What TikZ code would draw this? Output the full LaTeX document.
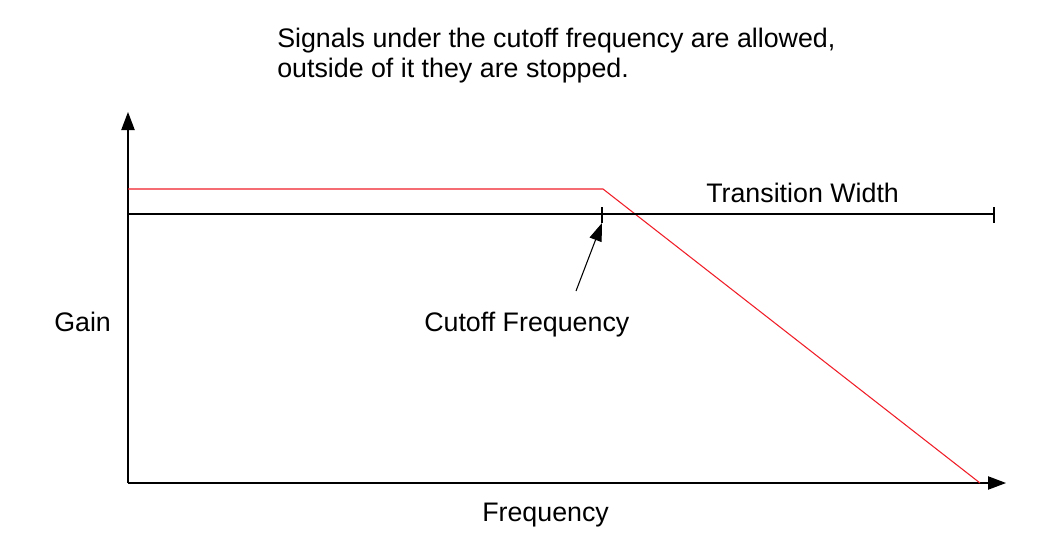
\documentclass[tikz,border=0pt]{standalone}
\usepackage{fontspec}
\setmainfont{Liberation Sans}
\usetikzlibrary{arrows.meta}
\begin{document}
\begin{tikzpicture}[x=0.75pt,y=-0.75pt,
  lbl/.style={inner sep=0pt,anchor=base west,font=\fontsize{20.1pt}{23pt}\selectfont},
  axis/.style={line width=0.8pt,-{Triangle[length=13.5pt,width=10pt]}},
  thin/.style={line width=0.8pt},
  resp/.style={line width=0.8pt,draw={rgb,255:red,240;green,30;blue,40}}]
\useasboundingbox (0,0) rectangle (1047,546);
% coordinates
\coordinate (O) at (128,483);
\coordinate (ytop) at (128,112);
\coordinate (xend) at (1006,483);
\coordinate (r0) at (128,189);
\coordinate (rk) at (603,189);
\coordinate (rend) at (980,483);
\coordinate (l0) at (128,214);
\coordinate (lc) at (602,214);
\coordinate (le) at (994,214);
\coordinate (tc1) at (602,207);
\coordinate (tc2) at (602,223);
\coordinate (te1) at (994,207);
\coordinate (te2) at (994,223);
\coordinate (astart) at (576,291);
% axes
\draw[axis] (O) -- (ytop);
\draw[axis] (O) -- (xend);
% response
\draw[resp] (r0) -- (rk) -- (rend);
% reference line with ticks
\draw[thin] (l0) -- (le);
\draw[thin] (tc1) -- (tc2);
\draw[thin] (te1) -- (te2);
% cutoff arrow
\draw[line width=0.8pt,-{Triangle[length=13.5pt,width=9.5pt]}] (astart) -- (tc2);
% texts
\node[lbl] (t1) at (277,47) {Signals under the cutoff frequency are allowed,};
\node[lbl] (t2) at (277,77) {outside of it they are stopped.};
\node[lbl] (gain) at (54,331) {Gain};
\node[lbl] (cut) at (424,331) {Cutoff Frequency};
\node[lbl] (freq) at (482,521) {Frequency};
\node[lbl] (tw) at (706,202) {Transition Width};
\end{tikzpicture}
\end{document}
